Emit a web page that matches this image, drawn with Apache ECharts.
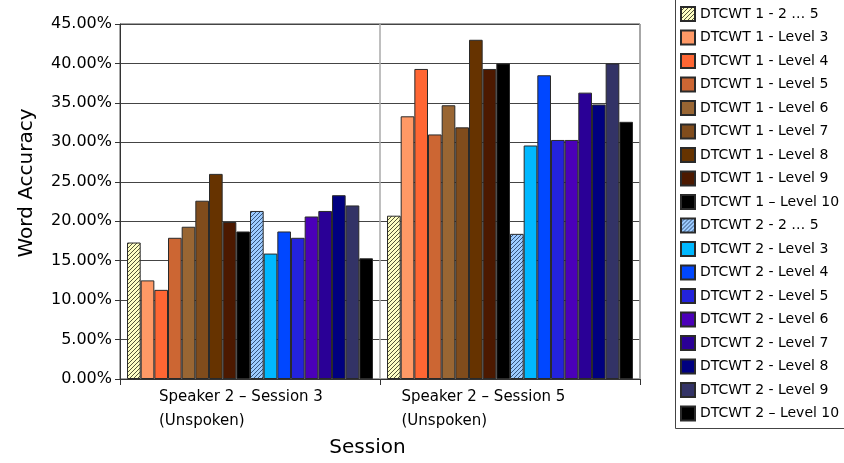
<!DOCTYPE html>
<html>
<head>
<meta charset="utf-8">
<script src="https://cdn.jsdelivr.net/npm/echarts@6/dist/echarts.min.js"></script>
<style>
html,body{margin:0;padding:0;background:#fff;}
#chart{width:844px;height:463px;}
</style>
</head>
<body>
<div id="chart"></div>
<script>
// ---- data ----
var categories = ['Speaker 2 – Session 3\n(Unspoken)', 'Speaker 2 – Session 5\n(Unspoken)'];
var seriesNames = [
  'DTCWT 1 - 2 … 5', 'DTCWT 1 - Level 3', 'DTCWT 1 - Level 4', 'DTCWT 1 - Level 5',
  'DTCWT 1 - Level 6', 'DTCWT 1 - Level 7', 'DTCWT 1 - Level 8', 'DTCWT 1 - Level 9',
  'DTCWT 1 – Level 10',
  'DTCWT 2 - 2 … 5', 'DTCWT 2 - Level 3', 'DTCWT 2 - Level 4', 'DTCWT 2 - Level 5',
  'DTCWT 2 - Level 6', 'DTCWT 2 - Level 7', 'DTCWT 2 - Level 8', 'DTCWT 2 - Level 9',
  'DTCWT 2 – Level 10'
];
// word accuracy (%) per series, Session 3
var session3Values = [17.3, 12.5, 11.3, 17.9, 19.3, 22.6, 26.0, 19.9, 18.7,
                      21.3, 15.9, 18.7, 17.9, 20.6, 21.3, 23.3, 22.0, 15.3];
// word accuracy (%) per series, Session 5
var session5Values = [20.7, 33.3, 39.3, 31.0, 34.7, 31.9, 43.0, 39.3, 40.0,
                      18.4, 29.6, 38.5, 30.3, 30.3, 36.3, 34.8, 40.0, 32.6];
var yTicks = [0, 5, 10, 15, 20, 25, 30, 35, 40, 45];

// ---- styles ----
function hatch(bg, fg) {
  var c = document.createElement('canvas');
  c.width = 4; c.height = 4;
  var g = c.getContext('2d');
  g.fillStyle = bg; g.fillRect(0, 0, 4, 4);
  g.strokeStyle = fg; g.lineWidth = 1;
  g.beginPath();
  g.moveTo(-1, 5); g.lineTo(5, -1);
  g.moveTo(-1, 1); g.lineTo(1, -1);
  g.moveTo(3, 5); g.lineTo(5, 3);
  g.stroke();
  return {image: c, repeat: 'repeat'};
}
var palette = [
  hatch('#ffffc4', '#55553a'), '#ff9966', '#ff6633', '#cc6633', '#996633', '#804c1c', '#663300', '#4c1900', '#000000',
  hatch('#9ccbff', '#35547e'), '#00b8ff', '#0047ff', '#2323dc', '#4b00b9', '#2a0096', '#000080', '#333366', '#000000'
];

var series = seriesNames.map(function (name, i) {
  return {
    name: name,
    type: 'bar',
    barGap: '0%',
    barCategoryGap: '5.4%',
    data: [session3Values[i], session5Values[i]],
    itemStyle: {color: palette[i], borderColor: '#2a2a2a', borderWidth: 1},
    emphasis: {disabled: true}
  };
});

var chart = echarts.init(document.getElementById('chart'), null, {renderer: 'canvas'});
chart.setOption({
  animation: false,
  textStyle: {fontFamily: 'DejaVu Sans'},
  grid: {left: 120, right: 204, top: 24, bottom: 83, show: true, borderColor: '#444', borderWidth: 1, containLabel: false},
  legend: {
    orient: 'vertical',
    left: 680,
    top: 6,
    padding: 0,
    itemWidth: 14,
    itemHeight: 14,
    itemGap: 7.5,
    icon: 'rect',
    selectedMode: false,
    textStyle: {fontSize: 14, color: '#000', fontFamily: 'DejaVu Sans'},
    data: seriesNames
  },
  graphic: [{
    type: 'rect',
    z: -1,
    shape: {x: 675.5, y: -5, width: 200, height: 433.5},
    style: {fill: '#fff', stroke: '#444', lineWidth: 1}
  }],
  xAxis: {
    type: 'category',
    data: categories,
    name: 'Session',
    nameLocation: 'middle',
    nameGap: 59,
    nameTextStyle: {fontSize: 20, color: '#000', padding: [0, 25, 0, 0]},
    axisLine: {lineStyle: {color: '#333'}},
    axisTick: {show: true, length: 6, lineStyle: {color: '#333'}},
    splitLine: {show: true, lineStyle: {color: '#aaa', width: 1.5}},
    axisLabel: {
      margin: 6,
      interval: 0,
      formatter: function (v, idx) {
        var parts = v.split('\n');
        var k = idx === 0 ? 'a' : 'b';
        return '{' + k + '|' + parts[0] + '}\n{' + k + '|' + parts[1] + '}';
      },
      rich: {
        a: {width: 182, align: 'left', fontSize: 15, lineHeight: 24, color: '#000', fontFamily: 'DejaVu Sans'},
        b: {width: 217, align: 'left', fontSize: 15, lineHeight: 24, color: '#000', fontFamily: 'DejaVu Sans'}
      }
    }
  },
  yAxis: {
    type: 'value',
    min: yTicks[0],
    max: yTicks[yTicks.length - 1],
    interval: yTicks[1] - yTicks[0],
    name: 'Word Accuracy',
    nameLocation: 'middle',
    nameRotate: 90,
    nameGap: 83,
    nameTextStyle: {fontSize: 20, color: '#000', padding: [0, 0, 0, 37]},
    axisLine: {show: true, lineStyle: {color: '#333'}},
    axisTick: {show: true, length: 5, lineStyle: {color: '#333'}},
    splitLine: {show: true, lineStyle: {color: '#444', width: 1}},
    axisLabel: {
      margin: 8,
      fontSize: 16,
      color: '#000',
      formatter: function (v) { return v.toFixed(2) + '%'; }
    }
  },
  series: series
});
</script>
</body>
</html>
